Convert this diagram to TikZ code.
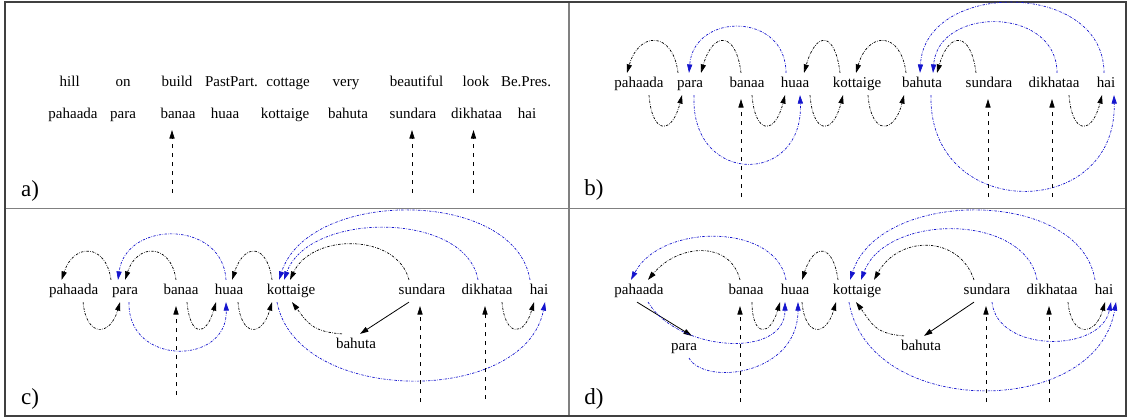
\documentclass[tikz,border=0pt]{standalone}
\usepackage{fontspec}
\setmainfont{Liberation Serif}
\usetikzlibrary{arrows.meta}
\definecolor{arcblue}{RGB}{20,20,205}
\newcommand\wordfont{\fontsize{15}{18}\selectfont}
\newcommand\panelfont{\fontsize{23}{26}\selectfont}
\tikzset{
  w/.style={font=\wordfont, inner sep=4pt, text height=10.5pt, text depth=3.3pt},
  lbl/.style={font=\panelfont, inner sep=0pt},
  tip/.style={-{Triangle[length=8.5pt,width=5.2pt]}},
  blk/.style={draw=black, line width=0.7pt, dash pattern=on 2.4pt off 1.3pt on 0.6pt off 1.3pt, tip},
  blu/.style={blk, draw=arcblue},
  dsh/.style={draw=black, line width=0.8pt, dash pattern=on 4.5pt off 4.5pt, tip},
  sld/.style={draw=black, line width=0.8pt, tip},
  frame/.style={draw=black!75, line width=1.5pt},
  divider/.style={draw=black!50, line width=1.3pt},
}
\begin{document}
\begin{tikzpicture}[x=1pt, y=-1pt]
\useasboundingbox (0,0) rectangle (1128,418);
% frame
\draw[divider] (569,2) -- (569,416);
\draw[divider] (5,208.5) -- (1126,208.5);
\draw[frame] (5,2) rectangle (1126,416);

% ================= panel a =================
\node[w] (a-hill) at (69.7,83) {hill};
\node[w] (a-on) at (123,83) {on};
\node[w] (a-build) at (177,83) {build};
\node[w] (a-past) at (231.5,83) {PastPart.};
\node[w] (a-cottage) at (288,83) {cottage};
\node[w] (a-very) at (346,83) {very};
\node[w] (a-beautiful) at (416.5,83) {beautiful};
\node[w] (a-look) at (476,83) {look};
\node[w] (a-be) at (526,83) {Be.Pres.};
\node[w] (a-pahaada) at (73,115) {pahaada};
\node[w] (a-para) at (123,115) {para};
\node[w] (a-banaa) at (178,115) {banaa};
\node[w] (a-huaa) at (225,115) {huaa};
\node[w] (a-kottaige) at (285,115) {kottaige};
\node[w] (a-bahuta) at (348,115) {bahuta};
\node[w] (a-sundara) at (413,115) {sundara};
\node[w] (a-dikhataa) at (476.5,115) {dikhataa};
\node[w] (a-hai) at (527,115) {hai};
\draw[dsh] ([xshift=-6pt,yshift=-67pt]a-banaa.south) -- ([xshift=-6pt,yshift=-4pt]a-banaa.south);
\draw[dsh] ([xshift=-1pt,yshift=-67pt]a-sundara.south) -- ([xshift=-1pt,yshift=-4pt]a-sundara.south);
\draw[dsh] ([xshift=-3pt,yshift=-67pt]a-dikhataa.south) -- ([xshift=-3pt,yshift=-4pt]a-dikhataa.south);
\node[lbl] (la) at (30,191) {a)};

% ================= panel b =================
\node[w] (b-pahaada) at (639,84) {pahaada};
\node[w] (b-para) at (690,84) {para};
\node[w] (b-banaa) at (747,84) {banaa};
\node[w] (b-huaa) at (795,84) {huaa};
\node[w] (b-kottaige) at (857,84) {kottaige};
\node[w] (b-bahuta) at (922,84) {bahuta};
\node[w] (b-sundara) at (989,84) {sundara};
\node[w] (b-dikhataa) at (1054,84) {dikhataa};
\node[w] (b-hai) at (1106,84) {hai};
% black above
\draw[blk] ([xshift=-12pt]b-para.north) .. controls +(-5,-42) and +(12,-42) .. ([xshift=-12pt]b-pahaada.north);
\draw[blk] ([xshift=-6pt]b-banaa.north) .. controls +(-5,-42) and +(12,-42) .. ([xshift=11pt]b-para.north);
\draw[blk] ([xshift=-17pt]b-kottaige.north) .. controls +(-5,-42) and +(12,-42) .. ([xshift=9pt]b-huaa.north);
\draw[blk] ([xshift=-16pt]b-bahuta.north) .. controls +(-5,-42) and +(12,-42) .. ([xshift=-1pt]b-kottaige.north);
\draw[blk] ([xshift=-13pt]b-sundara.north) .. controls +(-5,-42) and +(12,-42) .. ([xshift=15pt]b-bahuta.north);
% black below
\draw[blk] ([xshift=10pt]b-pahaada.south) .. controls +(3,40) and +(-10,40) .. ([xshift=-8pt]b-para.south);
\draw[blk] ([xshift=5pt]b-banaa.south) .. controls +(3,40) and +(-10,40) .. ([xshift=-10pt]b-huaa.south);
\draw[blk] ([xshift=15pt]b-huaa.south) .. controls +(3,40) and +(-10,40) .. ([xshift=-14pt]b-kottaige.south);
\draw[blk] ([xshift=11pt]b-kottaige.south) .. controls +(3,40) and +(-10,40) .. ([xshift=-18pt]b-bahuta.south);
\draw[blk] ([xshift=15pt]b-dikhataa.south) .. controls +(3,40) and +(-10,40) .. ([xshift=-4pt]b-hai.south);
% blue
\draw[blu] ([xshift=-9pt]b-huaa.north) .. controls +(0,-61) and +(5,-61) .. ([xshift=-1pt]b-para.north);
\draw[blu] ([xshift=4pt]b-para.south) .. controls +(-4,91) and +(4,91) .. ([xshift=5pt]b-huaa.south);
\draw[blu] ([xshift=3pt]b-dikhataa.north) .. controls +(0,-67) and +(5,-67) .. ([xshift=11pt]b-bahuta.north);
\draw[blu] ([xshift=-2pt]b-hai.north) .. controls +(0,-93) and +(5,-93) .. ([xshift=-2pt]b-bahuta.north);
\draw[blu] ([xshift=9pt]b-bahuta.south) .. controls +(-3,127) and +(3,127) .. ([xshift=8pt]b-hai.south);
% dashed
\draw[dsh] ([xshift=-6pt,yshift=-102pt]b-banaa.south) -- ([xshift=-6pt,yshift=-4pt]b-banaa.south);
\draw[dsh] ([xshift=-1pt,yshift=-102pt]b-sundara.south) -- ([xshift=-1pt,yshift=-4pt]b-sundara.south);
\draw[dsh] ([xshift=-2pt,yshift=-102pt]b-dikhataa.south) -- ([xshift=-2pt,yshift=-4pt]b-dikhataa.south);
\node[lbl] (lb) at (594,190) {b)};

% ================= panel c =================
\node[w] (c-pahaada) at (73.6,291) {pahaada};
\node[w] (c-para) at (125,291) {para};
\node[w] (c-banaa) at (181,291) {banaa};
\node[w] (c-huaa) at (229,291) {huaa};
\node[w] (c-kottaige) at (291,291) {kottaige};
\node[w] (c-sundara) at (422,291) {sundara};
\node[w] (c-dikhataa) at (487,291) {dikhataa};
\node[w] (c-hai) at (539,291) {hai};
\node[w] (c-bahuta) at (356,345) {bahuta};
% black above
\draw[blk] ([xshift=-14pt]c-para.north) .. controls +(-5,-37) and +(12,-37) .. ([xshift=-12pt]c-pahaada.north);
\draw[blk] ([xshift=-5pt]c-banaa.north) .. controls +(-5,-37) and +(12,-37) .. (c-para.north);
\draw[blk] ([xshift=-19pt]c-kottaige.north) .. controls +(-5,-37) and +(12,-37) .. ([xshift=3pt]c-huaa.north);
\draw[blk] ([xshift=-13pt]c-sundara.north) .. controls +(-12,-47) and +(22,-47) .. ([xshift=-1pt]c-kottaige.north);
% black below
\draw[blk] ([xshift=9.5pt]c-pahaada.south) .. controls +(3,35) and +(-10,35) .. ([xshift=-5pt]c-para.south);
\draw[blk] ([xshift=6pt]c-banaa.south) .. controls +(3,35) and +(-10,35) .. ([xshift=-13pt]c-huaa.south);
\draw[blk] ([xshift=9pt]c-huaa.south) .. controls +(3,35) and +(-10,35) .. ([xshift=-19pt]c-kottaige.south);
\draw[blk] ([xshift=15pt]c-dikhataa.south) .. controls +(3,35) and +(-10,35) .. ([xshift=-5pt]c-hai.south);
\draw[blk] ([xshift=-14pt]c-bahuta.north) .. controls +(-30,-2) and +(15,20) .. ([xshift=1pt]c-kottaige.south);
\draw[sld] ([xshift=-13pt]c-sundara.south) -- ([xshift=4pt]c-bahuta.north);
% blue
\draw[blu] ([xshift=-3pt]c-huaa.north) .. controls +(-3,-60) and +(8,-60) .. ([xshift=-7pt]c-para.north);
\draw[blu] ([xshift=4pt]c-para.south) .. controls +(-2,64) and +(2,64) .. ([xshift=-3pt]c-huaa.south);
\draw[blu] ([xshift=-9pt]c-dikhataa.north) .. controls +(-12,-69) and +(25,-69) .. ([xshift=-7pt]c-kottaige.north);
\draw[blu] ([xshift=-9pt]c-hai.north) .. controls +(-15,-92) and +(30,-92) .. ([xshift=-12pt]c-kottaige.north);
\draw[blu] ([xshift=-14pt]c-kottaige.south) .. controls +(20,104) and +(-20,104) .. ([xshift=6pt]c-hai.south);
% dashed
\draw[dsh] ([xshift=-5pt,yshift=-93pt]c-banaa.south) -- ([xshift=-5pt,yshift=-4pt]c-banaa.south);
\draw[dsh] ([xshift=-2pt,yshift=-100pt]c-sundara.south) -- ([xshift=-2pt,yshift=-4pt]c-sundara.south);
\draw[dsh] ([xshift=-2pt,yshift=-97pt]c-dikhataa.south) -- ([xshift=-2pt,yshift=-4pt]c-dikhataa.south);
\node[lbl] (lc) at (30,399) {c)};

% ================= panel d =================
\node[w] (d-pahaada) at (639,291) {pahaada};
\node[w] (d-banaa) at (746,291) {banaa};
\node[w] (d-huaa) at (795,291) {huaa};
\node[w] (d-kottaige) at (857,291) {kottaige};
\node[w] (d-sundara) at (987,291) {sundara};
\node[w] (d-dikhataa) at (1052,291) {dikhataa};
\node[w] (d-hai) at (1104,291) {hai};
\node[w] (d-para) at (684,347) {para};
\node[w] (d-bahuta) at (921,347) {bahuta};
% black above
\draw[blk] ([xshift=-6pt]d-banaa.north) .. controls +(-10,-40) and +(30,-36) .. ([xshift=9pt]d-pahaada.north);
\draw[blk] ([xshift=-19pt]d-kottaige.north) .. controls +(-5,-37) and +(12,-37) .. ([xshift=7pt]d-huaa.north);
\draw[blk] ([xshift=-13pt]d-sundara.north) .. controls +(-15,-45) and +(25,-45) .. ([xshift=17pt]d-kottaige.north);
% black below
\draw[blk] ([xshift=6pt]d-banaa.south) .. controls +(0,35) and +(-10,35) .. ([xshift=-15pt]d-huaa.south);
\draw[blk] ([xshift=7pt]d-huaa.south) .. controls +(3,35) and +(-10,35) .. ([xshift=-21pt]d-kottaige.south);
\draw[blk] ([xshift=16pt]d-dikhataa.south) .. controls +(3,35) and +(-10,35) .. ([xshift=1pt]d-hai.south);
\draw[blk] ([xshift=-17pt]d-bahuta.north) .. controls +(-30,-2) and +(15,20) .. ([xshift=-1pt]d-kottaige.south);
\draw[sld] ([xshift=-2pt]d-pahaada.south) -- ([xshift=8pt]d-para.north);
\draw[sld] ([xshift=-13pt]d-sundara.south) -- ([xshift=3pt]d-bahuta.north);
% blue
\draw[blu] ([xshift=-9pt]d-huaa.north) .. controls +(-10,-57) and +(30,-57) .. ([xshift=-8pt]d-pahaada.north);
\draw[blu] ([xshift=9pt]d-pahaada.south) .. controls +(30,50) and +(0,57) .. ([xshift=-10pt]d-huaa.south);
\draw[blu] ([xshift=5pt]d-para.south) .. controls +(16,28) and +(0,73) .. ([xshift=3pt]d-huaa.south);
\draw[blu] ([xshift=-15pt]d-dikhataa.north) .. controls +(-12,-67) and +(25,-67) .. ([xshift=4pt]d-kottaige.north);
\draw[blu] ([xshift=-9pt]d-hai.north) .. controls +(-15,-92) and +(30,-92) .. ([xshift=-7pt]d-kottaige.north);
\draw[blu] ([xshift=5pt]d-sundara.south) .. controls +(5,51) and +(-10,51) .. ([xshift=7pt]d-hai.south);
\draw[blu] ([xshift=-8pt]d-kottaige.south) .. controls +(20,117) and +(-20,117) .. ([xshift=12pt]d-hai.south);
% dashed
\draw[dsh] ([xshift=-6pt,yshift=-100pt]d-banaa.south) -- ([xshift=-6pt,yshift=-4pt]d-banaa.south);
\draw[dsh] ([xshift=-1pt,yshift=-100pt]d-sundara.south) -- ([xshift=-1pt,yshift=-4pt]d-sundara.south);
\draw[dsh] ([xshift=-3pt,yshift=-100pt]d-dikhataa.south) -- ([xshift=-3pt,yshift=-4pt]d-dikhataa.south);
\node[lbl] (ld) at (594,399) {d)};
\end{tikzpicture}
\end{document}
